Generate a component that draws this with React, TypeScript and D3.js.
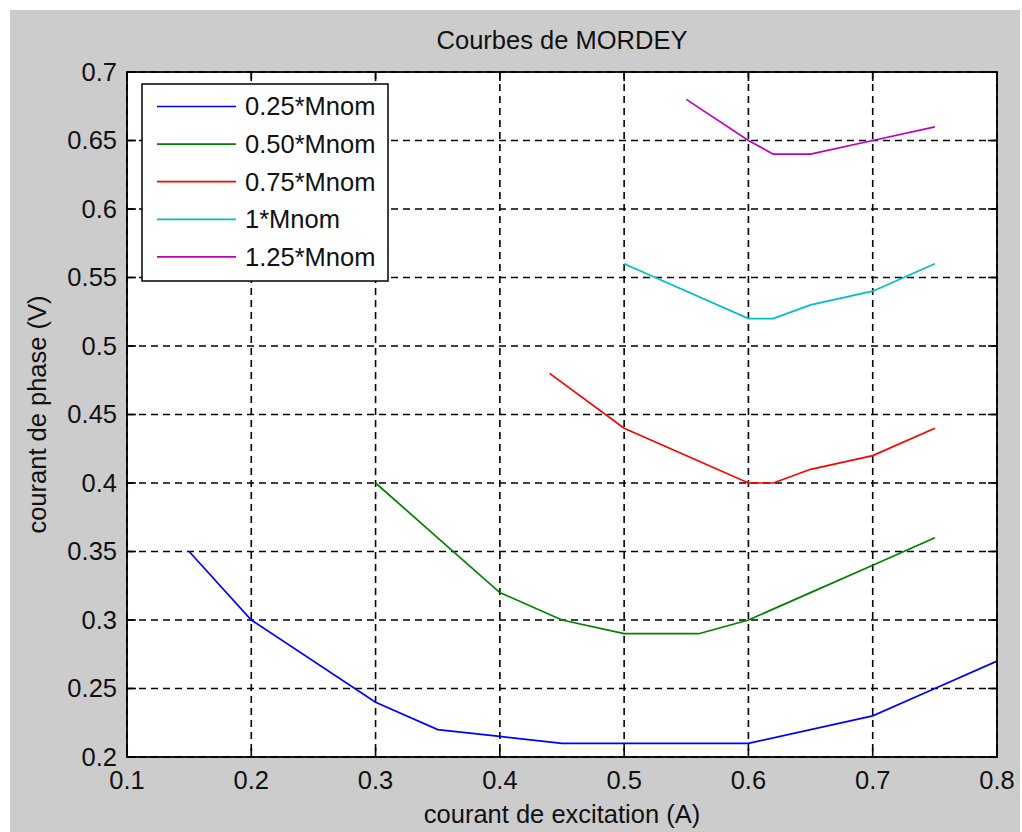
import React from "react";
import * as d3 from "d3";

// Courbes de Mordey : courant de phase vs courant d'excitation
const xTicks = [0.1, 0.2, 0.3, 0.4, 0.5, 0.6, 0.7, 0.8];
const yTicks = [0.2, 0.25, 0.3, 0.35, 0.4, 0.45, 0.5, 0.55, 0.6, 0.65, 0.7];

const legendLabels = ["0.25*Mnom", "0.50*Mnom", "0.75*Mnom", "1*Mnom", "1.25*Mnom"];
const colors = ["#0000ff", "#008000", "#ff0000", "#00bfbf", "#bf00bf"];

const exc025 = [0.15, 0.2, 0.3, 0.35, 0.4, 0.45, 0.6, 0.7, 0.75, 0.8];
const ph025 = [0.35, 0.3, 0.24, 0.22, 0.215, 0.21, 0.21, 0.23, 0.25, 0.27];

const exc050 = [0.3, 0.35, 0.4, 0.45, 0.5, 0.56, 0.6, 0.65, 0.7, 0.75];
const ph050 = [0.4, 0.36, 0.32, 0.3, 0.29, 0.29, 0.3, 0.32, 0.34, 0.36];

const exc075 = [0.44, 0.5, 0.6, 0.62, 0.65, 0.7, 0.75];
const ph075 = [0.48, 0.44, 0.4, 0.4, 0.41, 0.42, 0.44];

const exc100 = [0.5, 0.6, 0.62, 0.65, 0.7, 0.75];
const ph100 = [0.56, 0.52, 0.52, 0.53, 0.54, 0.56];

const exc125 = [0.55, 0.6, 0.62, 0.65, 0.7, 0.75];
const ph125 = [0.68, 0.65, 0.64, 0.64, 0.65, 0.66];

const seriesX = [exc025, exc050, exc075, exc100, exc125];
const seriesY = [ph025, ph050, ph075, ph100, ph125];

export default function App() {
  const width = 1022;
  const height = 832;
  const margin = { top: 72, right: 25, bottom: 75, left: 127 };
  const font = "'Liberation Sans', Arial, sans-serif";
  const fs = 25.5;

  const x = d3.scaleLinear().domain([0.1, 0.8]).range([margin.left, width - margin.right]);
  const y = d3.scaleLinear().domain([0.2, 0.7]).range([height - margin.bottom, margin.top]);
  const [x0, x1] = x.range();
  const [y0, y1] = y.range(); // y0 bottom, y1 top
  const tick = 9;

  const line = d3
    .line<[number, number]>()
    .x((d) => x(d[0]))
    .y((d) => y(d[1]));

  const fmt = (v: number) => d3.format("")(+v.toFixed(2));

  // legend
  const lg = { x: 142, y: 84, w: 246, h: 197, step: 37.6 };

  return (
    <svg
      width={width}
      height={height}
      style={{ position: "absolute", left: 0, top: 0, background: "#fff" }}
      fontFamily={font}
    >
      <rect x={10} y={10} width={width - 12} height={height - 10} fill="#cccccc" />
      <rect x={x0} y={y1} width={x1 - x0} height={y0 - y1} fill="#fff" />

      {/* grid */}
      {xTicks.map((t) => (
        <line key={"gx" + t} x1={x(t)} x2={x(t)} y1={y1} y2={y0} stroke="#000" strokeWidth={1.6} strokeDasharray="7,5" />
      ))}
      {yTicks.map((t) => (
        <line key={"gy" + t} x1={x0} x2={x1} y1={y(t)} y2={y(t)} stroke="#000" strokeWidth={1.6} strokeDasharray="7,5" />
      ))}

      {/* ticks on all four sides */}
      {xTicks.map((t) => (
        <g key={"tx" + t}>
          <line x1={x(t)} x2={x(t)} y1={y0} y2={y0 - tick} stroke="#000" strokeWidth={1.6} />
          <line x1={x(t)} x2={x(t)} y1={y1} y2={y1 + tick} stroke="#000" strokeWidth={1.6} />
          <text x={x(t)} y={y0 + 32} textAnchor="middle" fontSize={fs} fill="#111">
            {fmt(t)}
          </text>
        </g>
      ))}
      {yTicks.map((t) => (
        <g key={"ty" + t}>
          <line x1={x0} x2={x0 + tick} y1={y(t)} y2={y(t)} stroke="#000" strokeWidth={1.6} />
          <line x1={x1} x2={x1 - tick} y1={y(t)} y2={y(t)} stroke="#000" strokeWidth={1.6} />
          <text x={x0 - 10} y={y(t)} dy="0.35em" textAnchor="end" fontSize={fs} fill="#111">
            {fmt(t)}
          </text>
        </g>
      ))}

      {/* curves */}
      {seriesX.map((xs, i) => (
        <path
          key={"s" + i}
          d={line(xs.map((v, j) => [v, seriesY[i][j]]) as [number, number][]) || ""}
          fill="none"
          stroke={colors[i]}
          strokeWidth={1.7}
        />
      ))}

      {/* axes box */}
      <rect x={x0} y={y1} width={x1 - x0} height={y0 - y1} fill="none" stroke="#000" strokeWidth={1.8} />

      {/* legend */}
      <rect x={lg.x} y={lg.y} width={lg.w} height={lg.h} fill="#fff" stroke="#000" strokeWidth={1.5} />
      {legendLabels.map((lab, i) => {
        const cy = lg.y + 22.5 + i * lg.step;
        return (
          <g key={"lg" + i}>
            <line x1={lg.x + 15} x2={lg.x + 94} y1={cy} y2={cy} stroke={colors[i]} strokeWidth={1.7} />
            <text x={lg.x + 103} y={cy} dy="0.35em" fontSize={fs} fill="#111">
              {lab}
            </text>
          </g>
        );
      })}

      {/* titles */}
      <text x={(x0 + x1) / 2} y={49} textAnchor="middle" fontSize={fs} fill="#111">
        Courbes de MORDEY
      </text>
      <text x={(x0 + x1) / 2} y={823} textAnchor="middle" fontSize={fs} fill="#111">
        courant de excitation (A)
      </text>
      <text
        transform={`translate(46, ${(y0 + y1) / 2}) rotate(-90)`}
        textAnchor="middle"
        fontSize={fs}
        fill="#111"
      >
        courant de phase (V)
      </text>
    </svg>
  );
}
